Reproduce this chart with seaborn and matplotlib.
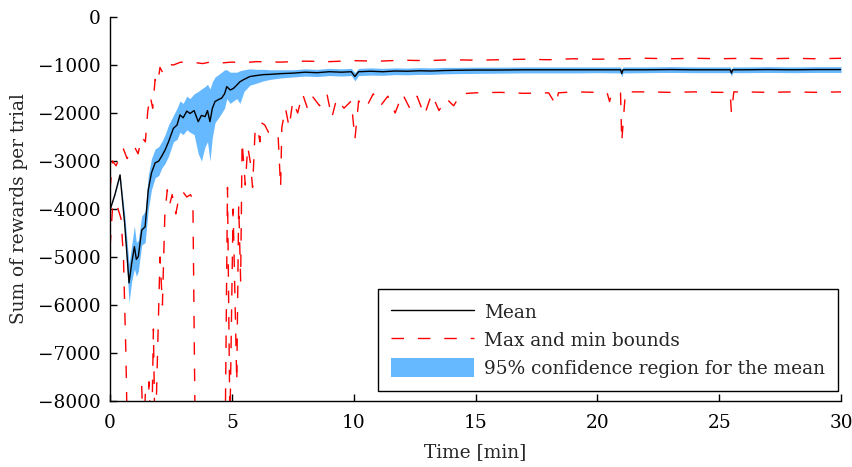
import matplotlib
matplotlib.use("Agg")
import matplotlib.pyplot as plt
import seaborn as sns

# ===== DATA =====
t_mean = [0, 0.2, 0.41, 0.6, 0.78, 0.89, 1.0, 1.08, 1.16, 1.3, 1.44, 1.57, 1.7, 1.85, 2.0, 2.12, 2.26, 2.4,
          2.6, 2.75, 2.87, 3.0, 3.15, 3.28, 3.45, 3.62, 3.75, 3.9, 4.0, 4.1, 4.2, 4.31, 4.45, 4.58, 4.7, 4.79,
          4.93, 5.06, 5.2, 5.33, 5.5, 5.74, 6.0, 6.3, 6.57, 7.0, 7.5, 8.0, 8.5, 9.0, 9.5, 9.9, 10.05, 10.2,
          10.7, 11.2, 11.7, 12.2, 12.7, 13.2, 13.7, 14.2, 15, 16, 17, 18, 19, 20, 20.95, 21.0, 21.05, 22, 23,
          24, 25, 25.45, 25.5, 25.55, 26, 27, 28, 29, 30]
mean_vals = [-4020, -3700, -3290, -4300, -5540, -5125, -4785, -5050, -4990, -4440, -4370, -3600, -3250,
             -3040, -3000, -2900, -2770, -2600, -2320, -2250, -2040, -2100, -1960, -2010, -1950, -2180,
             -2050, -2075, -1950, -2180, -1900, -1760, -1720, -1690, -1600, -1450, -1520, -1490, -1420,
             -1350, -1300, -1240, -1220, -1200, -1195, -1180, -1170, -1150, -1160, -1140, -1150, -1140,
             -1240, -1140, -1130, -1140, -1125, -1130, -1120, -1125, -1115, -1110, -1105, -1105, -1100,
             -1100, -1100, -1100, -1100, -1180, -1100, -1100, -1095, -1100, -1100, -1100, -1170, -1100,
             -1100, -1095, -1100, -1095, -1095]
ci_low = [-4020, -3720, -3320, -4500, -5950, -5500, -5250, -5400, -5300, -4750, -4700, -4000, -3600,
          -3350, -3300, -3150, -3050, -2900, -2600, -2550, -2400, -2450, -2350, -2400, -2450, -2850,
          -3000, -2700, -2600, -3000, -2500, -2200, -2100, -2000, -1900, -1700, -1800, -1750, -1700,
          -1800, -1550, -1420, -1380, -1330, -1300, -1270, -1250, -1230, -1240, -1220, -1230, -1220,
          -1330, -1220, -1210, -1215, -1200, -1205, -1195, -1195, -1185, -1180, -1175, -1170, -1165,
          -1165, -1165, -1160, -1165, -1250, -1165, -1160, -1155, -1160, -1160, -1160, -1240, -1160,
          -1160, -1155, -1160, -1155, -1155]
ci_high = [-4020, -3680, -3260, -4100, -5150, -4750, -4350, -4700, -4650, -4150, -4050, -3300, -2950,
           -2750, -2700, -2600, -2450, -2250, -2050, -1900, -1750, -1800, -1650, -1700, -1600, -1550,
           -1500, -1450, -1400, -1500, -1350, -1250, -1200, -1150, -1100, -1100, -1150, -1150, -1150,
           -1120, -1100, -1080, -1090, -1090, -1100, -1100, -1100, -1080, -1090, -1070, -1080, -1070,
           -1160, -1070, -1060, -1070, -1060, -1065, -1055, -1060, -1050, -1050, -1045, -1045, -1040,
           -1040, -1040, -1040, -1040, -1110, -1040, -1040, -1035, -1040, -1040, -1040, -1100, -1040,
           -1040, -1035, -1040, -1035, -1035]

t_max = [0, 0.1, 0.25, 0.4, 0.55, 0.7, 0.85, 1.0, 1.15, 1.3, 1.45, 1.55, 1.65, 1.75, 1.85, 1.95, 2.05,
         2.15, 2.3, 2.6, 2.9, 3.2, 3.5, 3.8, 4.1, 4.5, 5, 5.5, 6, 7, 8, 9, 10, 11, 12, 13, 14, 15, 16,
         17, 18, 19, 20, 21, 22, 23, 24, 25, 26, 27, 28, 29, 30]
max_vals = [-3600, -3000, -3100, -2900, -2750, -2950, -2800, -2700, -2850, -2500, -2600, -1950, -1650,
            -1900, -1300, -1400, -1050, -1150, -980, -1000, -940, -960, -950, -970, -940, -960, -940,
            -950, -930, -940, -920, -930, -910, -920, -900, -910, -890, -900, -890, -880, -890, -870,
            -880, -870, -860, -870, -860, -870, -860, -870, -860, -870, -860]

t_min = [0, 0.1, 0.2, 0.3, 0.45, 0.55, 0.65, 0.72, 1.25, 1.3, 1.38, 1.45, 1.52, 1.6, 1.7, 1.78, 1.85,
         1.95, 2.05, 2.15, 2.25, 2.35, 2.45, 2.55, 2.7, 2.85, 3.0, 3.15, 3.3, 3.4, 3.5, 4.72, 4.82, 4.92,
         5.05, 5.2, 5.28, 5.36, 5.42, 5.55, 5.65, 5.75, 5.85, 5.95, 6.05, 6.15, 6.2, 6.35, 6.5, 6.7,
         6.9, 7.0, 7.05, 7.2, 7.35, 7.5, 7.7, 7.9, 8.1, 8.3, 8.6, 8.9, 9.1, 9.3, 9.6, 9.9, 10.05, 10.2,
         10.5, 10.8, 11.1, 11.4, 11.7, 12.0, 12.3, 12.6, 12.9, 13.2, 13.5, 13.8, 14.1, 14.4, 15, 16, 17,
         18, 18.3, 18.4, 19, 20, 20.4, 20.5, 20.6, 20.95, 21.0, 21.15, 22, 23, 24, 25, 25.45, 25.5,
         25.6, 26, 27, 28, 29, 30]
min_vals = [-4800, -4000, -4100, -3950, -4200, -5000, -7000, -9000, -9000, -7700, -9000, -7800, -9000,
            -7600, -9000, -6500, -9000, -7000, -5000, -6000, -4100, -3600, -3900, -3700, -4100, -3700,
            -3650, -3750, -3700, -3800, -9000, -9000, -3550, -8500, -4000, -7600, -3900, -5500, -2600,
            -3500, -2700, -3000, -3550, -2400, -2300, -2600, -2200, -2250, -2400, -2350, -2500, -3550,
            -2300, -1900, -2300, -1750, -2000, -1600, -1900, -1650, -1850, -1600, -2100, -1700, -1900,
            -1750, -2550, -1750, -1900, -1600, -1850, -1650, -2000, -1600, -1900, -1650, -2050, -1600,
            -1950, -1700, -1850, -1600, -1580, -1570, -1590, -1580, -1830, -1580, -1560, -1570, -1580,
            -1760, -1570, -1580, -2600, -1560, -1560, -1570, -1560, -1570, -1570, -2000, -1560, -1560,
            -1570, -1560, -1570, -1560]

# ===== STYLE =====
sns.set_style("ticks")
plt.rcParams['font.family'] = ['DejaVu Serif']
plt.rcParams['mathtext.fontset'] = 'dejavuserif'
fs = 13.3

fig = plt.figure(figsize=(8.53, 4.67), dpi=100)
ax = fig.add_axes([0.129, 0.1413, 0.857, 0.8223])

red_dash = (0, (9, 10))
ax.fill_between(t_mean, ci_low, ci_high, color='#66b8ff', linewidth=0,
                label='95% confidence region for the mean', zorder=1)
sns.lineplot(x=t_max, y=max_vals, ax=ax, color='red', linewidth=1.0, linestyle=red_dash,
             sort=False, label='Max and min bounds', zorder=2)
sns.lineplot(x=t_min, y=min_vals, ax=ax, color='red', linewidth=1.0, linestyle=red_dash,
             sort=False, label='_nolegend_', zorder=2)
sns.lineplot(x=t_mean, y=mean_vals, ax=ax, color='black', linewidth=1.0, sort=False,
             label='Mean', zorder=3)

ax.set_xlim(0, 30)
ax.set_ylim(-8000, 0)
ax.set_xticks([0, 5, 10, 15, 20, 25, 30])
ax.set_yticks(range(-8000, 1, 1000))
ax.tick_params(direction='in', length=5, width=1, labelsize=fs, colors='black', pad=7)
ax.tick_params(axis='x', pad=9)
for s in ['top', 'right']:
    ax.spines[s].set_visible(False)
for s in ['left', 'bottom']:
    ax.spines[s].set_linewidth(1.0)
    ax.spines[s].set_color('black')

ax.set_xlabel("Time [min]", fontsize=fs, labelpad=8)
ax.set_ylabel("Sum of rewards per trial", fontsize=fs, labelpad=7)

handles, labels = ax.get_legend_handles_labels()
order = [labels.index('Mean'), labels.index('Max and min bounds'),
         labels.index('95% confidence region for the mean')]
leg = ax.legend([handles[i] for i in order], [labels[i] for i in order], loc='lower right',
                bbox_to_anchor=(838 / 853, 1 - 391 / 467), bbox_transform=fig.transFigure,
                fontsize=fs, frameon=True, fancybox=False, handlelength=4.45, handleheight=1.23,
                handletextpad=0.55, labelspacing=0.43, borderpad=0.72, borderaxespad=0,
                edgecolor='black', framealpha=1)
leg.get_frame().set_linewidth(1.0)

fig.savefig("out.png", dpi=100)
